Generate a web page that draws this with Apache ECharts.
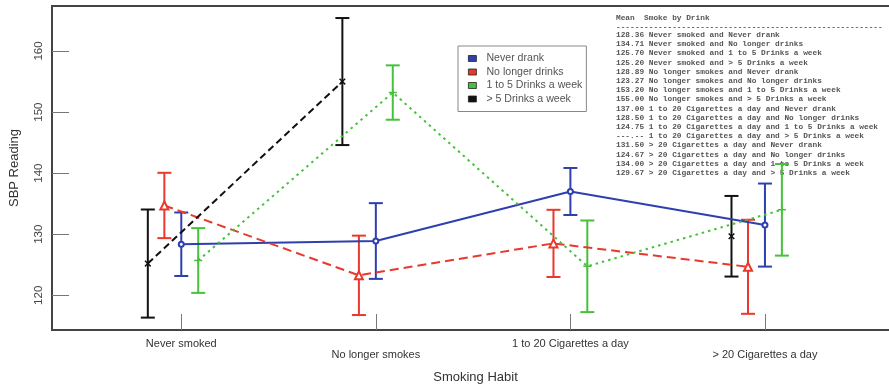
<!DOCTYPE html>
<html>
<head>
<meta charset="utf-8">
<script src="https://cdn.jsdelivr.net/npm/echarts@6/dist/echarts.min.js"></script>
<style>
  html, body { margin: 0; padding: 0; background: #fff; }
  #chart { width: 889px; height: 385px; }
</style>
</head>
<body>
<div id="chart"></div>
<script>
// Smoking habit groups along the x axis
const categories = ['Never smoked', 'No longer smokes', '1 to 20 Cigarettes a day', '> 20 Cigarettes a day'];

// Mean SBP per drinking group (null = no data)
const neverDrank     = [128.36, 128.89, 137.00, 131.50];
const noLongerDrinks = [134.71, 123.27, 128.50, 124.67];
const oneToFive      = [125.70, 153.20, 124.75, 134.00];
const overFive       = [125.20, 155.00, null,   129.67];

// Half-width of each error bar
const neverDrankErr     = [5.2, 6.2, 3.85, 6.8];
const noLongerDrinksErr = [5.35, 6.5, 5.5, 7.7];
const oneToFiveErr      = [5.3, 4.45, 7.5, 7.5];
const overFiveErr       = [8.85, 10.4, null, 6.6];

const yTicks = [120, 130, 140, 150, 160];

// Means listing printed at the top right
const tableHeader = 'Mean  Smoke by Drink';
const tableRows = [
  '128.36 Never smoked and Never drank',
  '134.71 Never smoked and No longer drinks',
  '125.70 Never smoked and 1 to 5 Drinks a week',
  '125.20 Never smoked and > 5 Drinks a week',
  '128.89 No longer smokes and Never drank',
  '123.27 No longer smokes and No longer drinks',
  '153.20 No longer smokes and 1 to 5 Drinks a week',
  '155.00 No longer smokes and > 5 Drinks a week',
  '137.00 1 to 20 Cigarettes a day and Never drank',
  '128.50 1 to 20 Cigarettes a day and No longer drinks',
  '124.75 1 to 20 Cigarettes a day and 1 to 5 Drinks a week',
  '---.-- 1 to 20 Cigarettes a day and > 5 Drinks a week',
  '131.50 > 20 Cigarettes a day and Never drank',
  '124.67 > 20 Cigarettes a day and No longer drinks',
  '134.00 > 20 Cigarettes a day and 1 to 5 Drinks a week',
  '129.67 > 20 Cigarettes a day and > 5 Drinks a week'
];

const groups = [
  { name: 'Never drank',          means: neverDrank,     errs: neverDrankErr,     color: '#2e3fae', offset: 0,      dash: 'solid',  symbol: 'emptyCircle', size: 5, rotate: 0 },
  { name: 'No longer drinks',     means: noLongerDrinks, errs: noLongerDrinksErr, color: '#e8392c', offset: -0.087, dash: [9, 5],   symbol: 'emptyTriangle', size: 8, rotate: 0 },
  { name: '1 to 5 Drinks a week', means: oneToFive,      errs: oneToFiveErr,      color: '#45c23a', offset: 0.087,  dash: [2.5, 4], symbol: 'plus', size: 8, rotate: 0 },
  { name: '> 5 Drinks a week',    means: overFive,       errs: overFiveErr,       color: '#111111', offset: -0.172, dash: [7, 4],   symbol: 'plus', size: 8, rotate: 45 }
];

// cross used as a point marker
const PLUS = 'path://M4.1,0 L5.9,0 L5.9,4.1 L10,4.1 L10,5.9 L5.9,5.9 L5.9,10 L4.1,10 L4.1,5.9 L0,5.9 L0,4.1 L4.1,4.1 Z';

const series = [];
groups.forEach(g => {
  // mean line
  series.push({
    name: g.name,
    type: 'line',
    z: 3,
    data: g.means.map((m, i) => [i + 1 + g.offset, m == null ? '-' : m]),
    connectNulls: false,
    symbol: g.symbol === 'plus' ? PLUS : g.symbol,
    symbolSize: g.size,
    symbolRotate: g.rotate,
    showAllSymbol: true,
    lineStyle: { color: g.color, width: 2, type: g.dash },
    itemStyle: { color: g.color, borderColor: g.color, borderWidth: g.symbol === 'plus' ? 0 : 1.5 },
    emphasis: { disabled: true }
  });
  // error bars
  series.push({
    name: g.name,
    type: 'custom',
    z: 2,
    itemStyle: { color: g.color },
    data: g.means.map((m, i) => m == null ? null : [i + 1 + g.offset, m - g.errs[i], m + g.errs[i]]).filter(d => d),
    renderItem: (params, api) => {
      const lo = api.coord([api.value(0), api.value(1)]);
      const hi = api.coord([api.value(0), api.value(2)]);
      const cap = 7;
      const style = { stroke: g.color, lineWidth: 2 };
      return {
        type: 'group',
        children: [
          { type: 'line', shape: { x1: lo[0], y1: lo[1], x2: hi[0], y2: hi[1] }, style },
          { type: 'line', shape: { x1: lo[0] - cap, y1: lo[1], x2: lo[0] + cap, y2: lo[1] }, style },
          { type: 'line', shape: { x1: hi[0] - cap, y1: hi[1], x2: hi[0] + cap, y2: hi[1] }, style }
        ]
      };
    }
  });
});

const textStyleBase = { fontFamily: 'Liberation Mono', fontSize: 7.8, fontWeight: 'bold', fill: '#555' };
const graphic = [
  { type: 'text', left: 616, top: 14, style: Object.assign({ text: tableHeader }, textStyleBase) },
  { type: 'text', left: 616, top: 23, style: Object.assign({ text: '-'.repeat(57) }, textStyleBase) }
];
tableRows.forEach((r, i) => {
  graphic.push({ type: 'text', left: 616, top: 31 + i * 9.2, style: Object.assign({ text: r }, textStyleBase) });
});

const chart = echarts.init(document.getElementById('chart'), null, { renderer: 'canvas' });
chart.setOption({
  animation: false,
  backgroundColor: '#fff',
  textStyle: { fontFamily: 'Liberation Sans' },
  grid: {
    left: 52, top: 6, bottom: 55, right: -10,
    outerBoundsMode: 'none', containLabel: false,
    show: true, borderColor: '#444', borderWidth: 2, backgroundColor: '#fff'
  },
  legend: {
    data: groups.map(g => ({ name: g.name, itemStyle: { color: g.color } })),
    orient: 'vertical',
    left: 458, top: 46,
    icon: 'rect',
    itemWidth: 8, itemHeight: 6, itemGap: 2.5,
    padding: [7, 4, 7, 10],
    borderColor: '#888', borderWidth: 1, borderRadius: 0,
    backgroundColor: '#fff',
    itemStyle: { borderColor: '#222', borderWidth: 0.8 },
    lineStyle: { width: 0 },
    textStyle: { fontSize: 10.6, color: '#555', fontFamily: 'Liberation Sans', padding: [0, 0, 0, 5] },
    selectedMode: false
  },
  xAxis: {
    type: 'value',
    min: 0.3355, max: 4.689,
    name: 'Smoking Habit',
    nameLocation: 'middle',
    nameGap: 41,
    nameTextStyle: { fontSize: 13, color: '#333' },
    axisLine: { show: false },
    splitLine: { show: false },
    axisTick: { show: true, inside: true, length: 16, customValues: [1, 2, 3, 4], lineStyle: { color: '#777', width: 1 } },
    axisLabel: {
      customValues: [1, 2, 3, 4],
      margin: 8,
      fontSize: 11,
      color: '#333',
      lineHeight: 11,
      formatter: v => {
        const i = Math.round(v) - 1;
        return i % 2 === 1 ? '\n' + categories[i] : categories[i];
      }
    }
  },
  yAxis: {
    type: 'value',
    min: 114.32, max: 167.37,
    name: 'SBP Reading',
    nameLocation: 'middle',
    nameGap: 31,
    nameRotate: 90,
    nameTextStyle: { fontSize: 13, color: '#333' },
    axisLine: { show: false },
    splitLine: { show: false },
    axisTick: { show: true, inside: true, length: 17, customValues: yTicks, lineStyle: { color: '#777', width: 1 } },
    axisLabel: { customValues: yTicks, rotate: 90, margin: 7, fontSize: 11.5, color: '#444' }
  },
  graphic,
  series
});
</script>
</body>
</html>
